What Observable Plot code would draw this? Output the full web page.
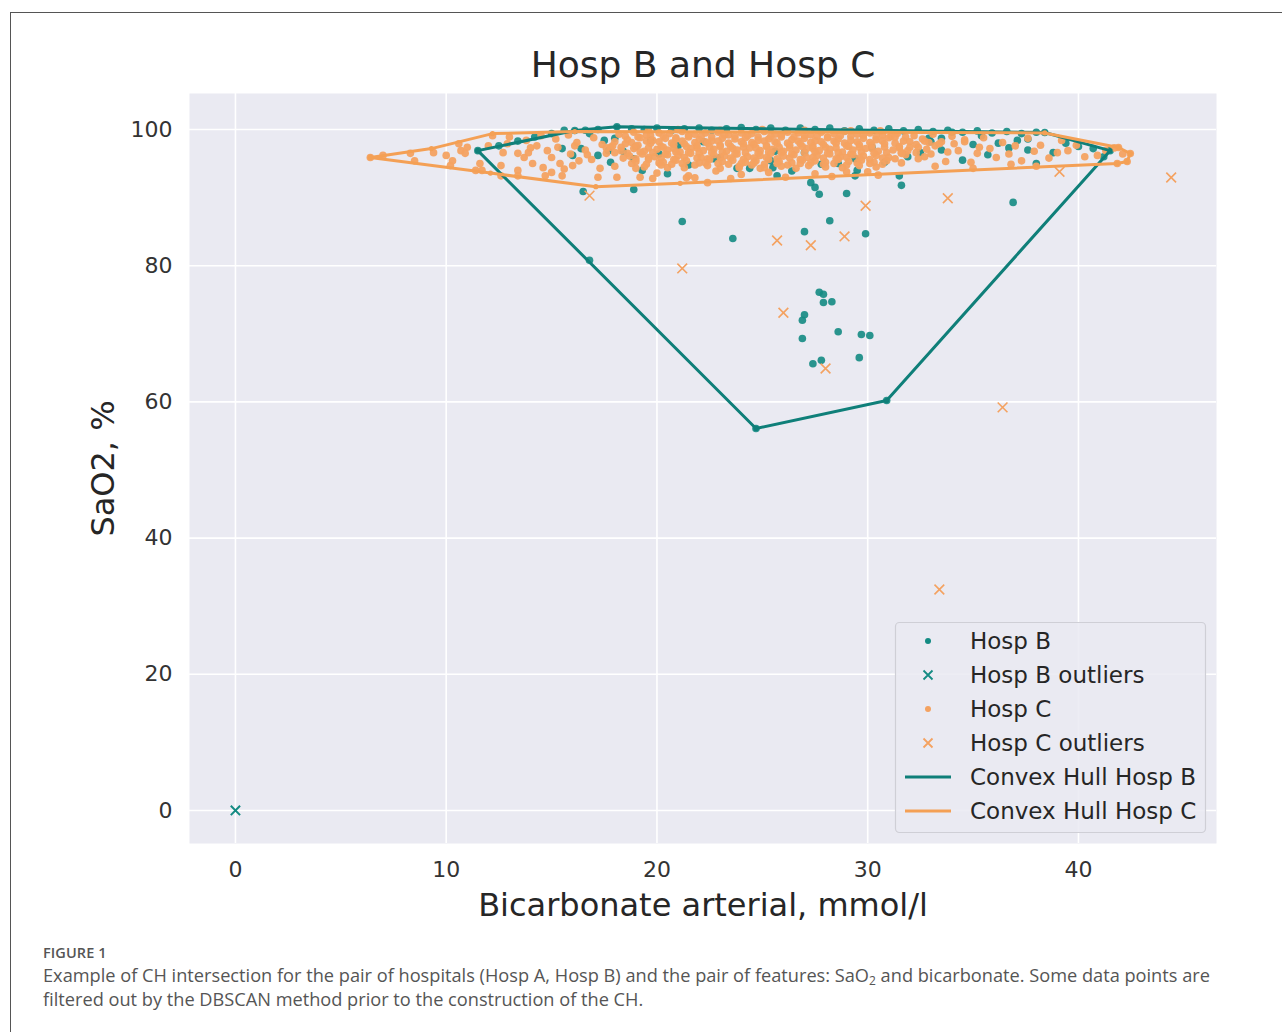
<!DOCTYPE html>
<html>
<head>
<meta charset="utf-8">
<script src="https://cdn.jsdelivr.net/npm/d3@7"></script>
<script src="https://cdn.jsdelivr.net/npm/@observablehq/plot@0.6"></script>
<style>
  html, body { margin: 0; padding: 0; background: #fff; }
  body { position: relative; width: 1282px; height: 1032px; overflow: hidden; }
  #border { position: absolute; left: 10px; top: 12px; width: 1400px; height: 1100px;
            border-left: 1px solid #555; border-top: 1px solid #555; }
  #chart { position: absolute; left: 0; top: 0; }
  #legend { position: absolute; left: 0; top: 0; }
  #caption { position: absolute; left: 43px; top: 943px; font-family: "Open Sans", sans-serif; color: #555; }
  #caption .fig { font-size: 14.5px; font-weight: 600; letter-spacing: 0.1px; line-height: 20px; }
  #caption .txt { font-size: 18.2px; line-height: 24px; margin-top: 0px; }
  #caption sub { font-size: 12px; vertical-align: -3px; line-height: 0; }
</style>
</head>
<body>
<div id="border"></div>
<div id="chart"></div>
<div id="legend"></div>
<div id="caption">
  <div class="fig">FIGURE 1</div>
  <div class="txt">Example of CH intersection for the pair of hospitals (Hosp A, Hosp B) and the pair of features: SaO<sub>2</sub> and bicarbonate. Some data points are<br>filtered out by the DBSCAN method prior to the construction of the CH.</div>
</div>
<script>
// ---------- DATA ----------
const titleText = "Hosp B and Hosp C";
const xLabel = "Bicarbonate arterial, mmol/l";
const yLabel = "SaO2, %";
const xTicks = [0, 10, 20, 30, 40];
const yTicks = [0, 20, 40, 60, 80, 100];

// Hosp B (teal) points: [bicarbonate, SaO2]
const hospB = [
  [11.5,96.9],[12.5,97.6],[13.4,98.3],[14.2,98.9],[15.0,99.4],[15.6,99.9],[16.1,99.85],[16.6,99.9],[17.2,100.0],[18.1,100.4],
  [18.8,100.1],[19.4,100.0],[20.0,100.2],[20.7,99.9],[21.3,100.1],[22.0,100.2],[22.6,99.9],[23.3,100.1],[24.0,100.3],[24.7,100.0],
  [25.4,100.2],[26.1,99.9],[26.8,100.2],[27.5,100.0],[28.2,100.2],[28.9,99.8],[29.6,100.1],[30.3,99.9],[31.0,100.1],[31.7,99.8],
  [32.4,100.0],[32.9,98.7],[33.1,99.7],[33.5,98.7],[33.8,99.9],[34.0,99.6],[34.5,99.6],[35.2,99.8],[35.4,99.1],[35.9,99.5],
  [36.6,99.7],[37.1,98.4],[37.3,99.4],[38.0,99.6],[38.4,99.56],[37.6,98.6],[36.2,98.0],
  [15.5,97.2],[16.0,96.2],[16.4,97.2],[16.8,99.4],[17.2,96.2],[17.5,98.4],[17.7,96.9],[17.8,95.2],[18.0,98.7],[18.4,96.8],
  [18.9,95.7],[19.0,97.5],[19.3,94.0],[19.7,98.4],[20.1,96.4],[20.5,93.5],[21.0,97.6],[21.5,94.8],[22.2,98.2],[22.7,95.7],
  [23.0,95.9],[23.8,94.3],[24.4,94.3],[25.4,95.4],[25.5,94.4],[25.6,96.8],[25.7,93.2],[26.4,93.9],[27.0,96.6],[27.8,94.9],
  [28.6,95.0],[29.4,95.7],[29.4,93.2],[29.5,94.0],[30.2,97.4],[30.8,95.2],[31.5,93.2],[31.9,96.0],[32.5,96.6],[33.0,98.2],
  [33.5,97.0],[34.5,95.5],[35.0,97.8],[35.7,96.3],[36.7,97.3],[37.6,97.0],[38.0,95.0],[38.8,96.6],[39.4,98.0],[40.0,97.5],
  [40.7,97.2],[41.5,96.9],[41.2,96.0],
  // below the dense band
  [16.5,90.9],[18.9,91.2],[21.2,86.5],[23.6,84.0],[27.0,85.0],[28.2,86.6],[29.9,84.7],[29.0,90.6],[31.6,91.8],[27.3,92.2],
  [27.5,91.5],[27.7,90.5],[36.9,89.3],[16.8,80.8],
  [27.7,76.1],[27.9,75.8],[27.9,74.6],[28.3,74.7],[27.0,72.8],[26.9,72.0],[28.6,70.3],[29.7,69.9],[30.1,69.75],[26.9,69.3],
  [29.6,66.5],[27.4,65.6],[27.8,66.1],[30.9,60.2],[24.7,56.1]
];
const hospBOutliers = [[0.0, 0.0]];

// Hosp C (orange) points
const hospC = [
  // left sparse part
  [6.4,95.9],[7.0,96.2],[8.3,96.5],[8.5,95.4],[9.4,96.6],[10.0,96.2],[10.3,95.4],[10.2,94.7],[10.6,97.9],[10.7,96.9],
  [11.0,97.4],[10.9,96.5],[11.4,94.0],[11.6,95.0],[11.7,94.0],[12.2,99.1],[12.0,97.6],[12.6,94.7],[12.7,96.6],[12.9,97.9],
  [13.4,96.5],[13.4,94.0],[13.7,95.9],[13.9,96.6],[14.1,95.0],[14.3,97.6],[14.6,94.4],[14.8,96.9],[15.0,95.9],[15.3,97.4],
  [15.4,95.0],[12.6,93.2],[13.4,93.2],[14.7,93.2],[15.0,93.7],[15.5,93.2],[16.0,94.7],[17.2,93.0],[18.1,93.0],[19.0,94.3],
  [19.8,92.8],[20.5,94.4],[21.4,92.9],[21.8,92.9],[22.4,92.2],[23.9,94.4],[24.9,94.3],
  [13.0,98.9],[13.8,98.4],[14.5,99.1],[15.2,98.6],[15.8,99.2],[16.2,98.1],[16.6,97.0],[16.9,95.6],[17.3,94.3],[17.6,96.5],
  [16.3,95.4],[15.9,96.4],[17.0,98.8],[17.8,97.4],[18.0,94.6],[14.0,97.3],[15.6,94.2],[16.7,96.3],[17.4,97.8],[16.1,97.6],
  // dense core rows
  [18.2,99.3],[18.9,99.6],[19.5,99.2],[20.1,99.5],[20.6,99.4],[21.2,99.7],[21.8,99.3],[22.3,99.5],[22.9,99.6],[23.4,99.2],
  [24.0,99.5],[24.5,99.4],[25.1,99.7],[25.6,99.3],[26.2,99.6],[26.7,99.5],[27.3,99.2],[27.8,99.6],[28.4,99.4],[28.9,99.7],
  [29.5,99.3],[30.1,99.5],[30.7,99.2],[31.4,99.4],[32.2,99.1],[33.1,99.3],
  [18.5,99.0],[19.1,98.9],[19.7,99.1],[20.3,99.0],[20.9,98.8],[21.5,99.1],[22.1,99.0],[22.6,98.9],[23.2,99.2],[23.7,99.0],
  [24.3,99.1],[24.8,98.9],[25.4,99.0],[25.9,99.2],[26.5,98.9],[27.0,99.1],[27.6,99.0],[28.1,98.9],[28.7,99.1],[29.2,99.0],
  [29.8,99.2],[30.4,98.9],[31.1,99.0],[31.8,98.9],
  [18.6,98.5],[19.2,98.8],[19.8,98.4],[20.4,98.7],[20.9,98.6],[21.5,98.9],[22.0,98.5],[22.6,98.3],[23.1,98.7],[23.7,98.6],
  [24.2,98.8],[24.8,98.4],[25.3,98.6],[25.9,98.9],[26.4,98.5],[27.0,98.7],[27.5,98.3],[28.1,98.8],[28.6,98.6],[29.2,98.4],
  [29.8,98.7],[30.4,98.5],[31.0,98.8],[31.7,98.3],[32.6,98.6],[33.5,98.2],[34.6,98.5],
  [18.0,98.2],[18.8,98.1],[19.5,98.3],[20.1,98.2],[20.7,98.0],[21.2,98.3],[21.8,98.1],[22.3,98.2],[22.9,98.3],[23.4,98.0],
  [24.0,98.2],[24.5,98.1],[25.1,98.3],[25.6,98.2],[26.2,98.0],[26.7,98.3],[27.3,98.1],[27.8,98.2],[28.4,98.3],[28.9,98.0],
  [29.5,98.2],[30.1,98.1],[30.7,98.3],[31.3,98.0],[32.0,98.2],[32.9,98.1],
  [17.9,97.6],[18.5,97.9],[19.1,97.7],[19.7,98.0],[20.2,97.5],[20.8,97.8],[21.3,97.9],[21.9,97.6],[22.4,98.0],[23.0,97.7],
  [23.5,97.5],[24.1,97.9],[24.6,97.8],[25.2,97.6],[25.7,98.0],[26.3,97.7],[26.8,97.9],[27.4,97.5],[27.9,97.8],[28.5,98.0],
  [29.0,97.6],[29.6,97.8],[30.2,97.7],[30.8,97.9],[31.5,97.5],[32.3,97.8],[33.2,97.6],[34.1,97.9],[35.3,97.4],
  [17.6,97.3],[18.3,97.4],[19.0,97.5],[19.6,97.3],[20.3,97.4],[20.8,97.2],[21.4,97.5],[21.9,97.3],[22.5,97.4],[23.0,97.5],
  [23.6,97.2],[24.1,97.4],[24.7,97.3],[25.2,97.5],[25.8,97.4],[26.3,97.3],[26.9,97.5],[27.4,97.2],[28.0,97.4],[28.5,97.3],
  [29.1,97.5],[29.6,97.4],[30.2,97.2],[30.8,97.4],[31.5,97.3],[32.4,97.4],
  [18.3,96.9],[18.9,97.2],[19.4,96.8],[20.0,97.1],[20.5,97.0],[21.1,96.7],[21.6,97.2],[22.2,96.9],[22.7,97.1],[23.3,96.8],
  [23.8,97.0],[24.4,97.3],[24.9,96.9],[25.5,97.1],[26.0,96.8],[26.6,97.0],[27.1,97.2],[27.7,96.9],[28.2,97.1],[28.8,96.7],
  [29.3,97.0],[29.9,97.2],[30.5,96.8],[31.2,97.0],[31.9,96.9],[32.8,97.1],[33.8,96.7],
  [18.0,96.6],[18.6,96.5],[19.2,96.7],[19.8,96.6],[20.4,96.4],[20.9,96.7],[21.5,96.6],[22.0,96.5],[22.6,96.6],[23.1,96.7],
  [23.7,96.4],[24.2,96.6],[24.8,96.5],[25.3,96.7],[25.9,96.6],[26.4,96.4],[27.0,96.6],[27.5,96.7],[28.1,96.5],[28.6,96.6],
  [29.2,96.4],[29.7,96.7],[30.3,96.5],[30.9,96.6],[31.6,96.5],[32.3,96.6],
  [18.7,96.1],[19.3,96.4],[19.9,96.0],[20.5,96.3],[21.0,96.2],[21.6,96.5],[22.1,95.9],[22.7,96.3],[23.2,96.1],[23.8,96.4],
  [24.3,96.0],[24.9,96.2],[25.4,96.5],[26.0,96.1],[26.5,96.3],[27.1,95.9],[27.6,96.2],[28.2,96.4],[28.7,96.0],[29.3,96.3],
  [29.8,96.1],[30.4,96.2],[31.0,95.9],[31.8,96.3],[32.7,96.0],
  [18.4,95.8],[19.0,95.7],[19.6,95.9],[20.2,95.8],[20.8,95.6],[21.3,95.9],[21.9,95.8],[22.4,95.7],[23.0,95.9],[23.5,95.8],
  [24.1,95.6],[24.6,95.8],[25.2,95.9],[25.7,95.7],[26.3,95.8],[26.8,95.6],[27.4,95.9],[27.9,95.8],[28.5,95.7],[29.0,95.9],
  [29.6,95.8],[30.1,95.6],[30.7,95.8],[31.3,95.7],
  [19.0,95.3],[19.6,95.6],[20.3,95.2],[20.9,95.5],[21.4,95.4],[22.0,95.1],[22.5,95.6],[23.1,95.3],[23.6,95.5],[24.2,95.2],
  [24.7,95.4],[25.3,95.6],[25.8,95.3],[26.4,95.1],[26.9,95.5],[27.5,95.4],[28.0,95.2],[28.6,95.6],[29.1,95.3],[29.7,95.5],
  [30.3,95.2],[30.9,95.4],[31.6,95.1],
  [18.8,95.0],[19.5,94.9],[20.1,95.1],[20.7,94.9],[21.2,95.0],[21.8,94.8],[22.3,95.1],[22.9,95.0],[23.4,94.9],[24.0,95.0],
  [24.6,95.1],[25.1,94.9],[25.7,95.0],[26.2,94.8],[26.8,95.0],[27.3,95.1],[27.9,94.9],[28.4,95.0],[29.0,94.8],[29.5,95.1],
  [30.1,95.0],[30.7,94.9],
  [19.4,94.5],[20.2,94.8],[21.3,94.4],[22.4,94.7],[23.0,94.3],[23.9,94.6],[24.5,94.8],[25.1,94.4],[25.9,94.6],[26.6,94.3],
  [27.2,94.7],[28.0,94.5],[28.8,94.4],[29.6,94.7],[30.4,94.5],
  [20.0,93.6],[21.5,93.2],[22.8,93.9],[24.0,93.4],[25.3,93.7],[26.1,93.0],[27.5,93.5],[29.0,93.8],[30.5,93.3],[19.2,93.0],
  [23.5,92.8],[28.3,93.1],
  [19.6,99.9],[21.0,100.0],[23.0,99.9],[25.0,100.0],[27.0,99.9],[29.2,99.8],[30.6,99.8],
  // right sparse part
  [31.3,98.9],[31.6,96.6],[32.0,97.4],[32.4,95.7],[32.7,98.3],[33.0,96.4],[33.4,97.9],[33.7,95.3],[34.0,99.0],[34.3,96.9],
  [34.6,98.2],[34.9,95.2],[35.2,96.5],[35.5,98.8],[35.8,97.2],[36.1,95.9],[36.4,98.1],[36.7,96.4],[37.0,97.6],[37.3,95.4],
  [37.6,98.7],[37.9,96.8],[38.2,97.7],[38.6,95.8],[39.0,96.6],[39.2,98.4],[39.5,96.9],[39.9,97.7],[40.3,96.0],[40.9,96.2],
  [41.3,96.9],[41.7,97.3],[42.1,96.4],[35.0,94.3],[36.8,94.9],[33.2,94.6],[30.0,93.8],[38.0,94.6],[41.9,97.36],[42.46,96.48],
  [42.31,95.3],[41.84,95.01]
];
const hospCOutliers = [
  [16.8,90.3],[21.2,79.6],[25.7,83.7],[27.3,83.0],[28.9,84.3],[29.9,88.8],[33.8,89.9],[39.1,93.8],[44.4,92.95],
  [26.0,73.1],[28.0,64.9],[36.4,59.2],[33.4,32.45]
];

// Convex hull vertices (closed)
const hullB = [
  [11.5,96.9],[16.1,99.85],[18.1,100.4],[38.4,99.56],[41.5,96.9],[30.9,60.2],[24.7,56.1],[11.5,96.9]
];
const hullC = [
  [6.4,95.9],[9.3,97.2],[12.2,99.4],[16.1,99.7],[38.4,99.5],[41.9,97.36],[42.46,96.48],[42.31,95.3],[41.84,95.01],
  [21.1,92.1],[17.1,91.6],[12.1,93.6],[6.4,95.9]
];

const seriesNames = ["Hosp B", "Hosp B outliers", "Hosp C", "Hosp C outliers", "Convex Hull Hosp B", "Convex Hull Hosp C"];

// ---------- STYLE ----------
const TEAL = "#148b83";
const TEAL_LINE = "#0f7f79";
const ORANGE = "#f4a261";
const ORANGE_LINE = "#f4a055";
const R = 3.8;

const chart = Plot.plot({
  width: 1282,
  height: 930,
  marginLeft: 189,
  marginRight: 66,
  marginTop: 93,
  marginBottom: 87,
  x: {domain: [-2.18, 46.55]},
  y: {domain: [-4.85, 105.29]},
  style: {fontFamily: "DejaVu Sans", background: "transparent", overflow: "visible"},
  marks: [
    Plot.frame({fill: "#EAEAF2", stroke: "none"}),
    Plot.gridX({ticks: xTicks, stroke: "#fff", strokeOpacity: 1, strokeWidth: 1.6}),
    Plot.gridY({ticks: yTicks, stroke: "#fff", strokeOpacity: 1, strokeWidth: 1.6}),
    Plot.dot(hospB, {x: d => d[0], y: d => d[1], r: R, fill: TEAL, fillOpacity: 0.9, stroke: "none"}),
    Plot.dot(hospBOutliers, {x: d => d[0], y: d => d[1], symbol: "times", r: 4.3, stroke: TEAL, strokeWidth: 2}),
    Plot.dot(hospC, {x: d => d[0], y: d => d[1], r: R, fill: ORANGE, fillOpacity: 0.95, stroke: "none"}),
    Plot.dot(hospCOutliers, {x: d => d[0], y: d => d[1], symbol: "times", r: 4.5, stroke: ORANGE, strokeWidth: 1.6}),
    Plot.line(hullB, {x: d => d[0], y: d => d[1], stroke: TEAL_LINE, strokeWidth: 3}),
    Plot.dot(hullB, {x: d => d[0], y: d => d[1], r: 2.6, fill: TEAL_LINE, stroke: "none"}),
    Plot.line(hullC, {x: d => d[0], y: d => d[1], stroke: ORANGE_LINE, strokeWidth: 3}),
    Plot.dot(hullC, {x: d => d[0], y: d => d[1], r: 2.6, fill: ORANGE_LINE, stroke: "none"}),
    Plot.axisX({ticks: xTicks, tickSize: 0, tickPadding: 18, fontSize: 22, fill: "#333", label: null}),
    Plot.axisY({ticks: yTicks, tickSize: 0, tickPadding: 17, fontSize: 22, fill: "#333", label: null}),
    Plot.text([titleText], {text: d => d, frameAnchor: "top", lineAnchor: "middle", textAnchor: "middle", dy: -28, fontSize: 36, fill: "#262626"}),
    Plot.text([xLabel], {text: d => d, frameAnchor: "bottom", lineAnchor: "middle", textAnchor: "middle", dy: 62, fontSize: 32, fill: "#262626"}),
    Plot.text([yLabel], {text: d => d, frameAnchor: "left", lineAnchor: "middle", textAnchor: "middle", dx: -86, rotate: -90, fontSize: 32, fill: "#262626"})
  ]
});
document.getElementById("chart").appendChild(chart);

// ---------- LEGEND (overlay) ----------
const legendSvg = d3.select("#legend").append("svg")
  .attr("width", 1282).attr("height", 930)
  .style("font-family", "DejaVu Sans");
const box = {x: 895.5, y: 622.5, w: 310, h: 210};
legendSvg.append("rect")
  .attr("x", box.x).attr("y", box.y).attr("width", box.w).attr("height", box.h)
  .attr("rx", 4).attr("fill", "#EAEAF2").attr("fill-opacity", 0.85)
  .attr("stroke", "#cfcfd6").attr("stroke-width", 1.2);
const kinds = ["dot", "x", "dot", "x", "line", "line"];
const colors = [TEAL, TEAL, ORANGE, ORANGE, TEAL_LINE, ORANGE_LINE];
seriesNames.forEach((name, i) => {
  const cy = 641 + i * 34;
  const mx = 928;
  if (kinds[i] === "dot") {
    legendSvg.append("circle").attr("cx", mx).attr("cy", cy).attr("r", 3).attr("fill", colors[i]);
  } else if (kinds[i] === "x") {
    const s = 4.5;
    legendSvg.append("path").attr("d", `M${mx - s},${cy - s}L${mx + s},${cy + s}M${mx - s},${cy + s}L${mx + s},${cy - s}`)
      .attr("stroke", colors[i]).attr("stroke-width", 1.8);
  } else {
    legendSvg.append("line").attr("x1", 905).attr("x2", 951).attr("y1", cy).attr("y2", cy)
      .attr("stroke", colors[i]).attr("stroke-width", 3);
  }
  legendSvg.append("text").attr("x", 970).attr("y", cy).attr("dy", "0.35em")
    .attr("font-size", 23).attr("fill", "#262626").text(name);
});
</script>
</body>
</html>
